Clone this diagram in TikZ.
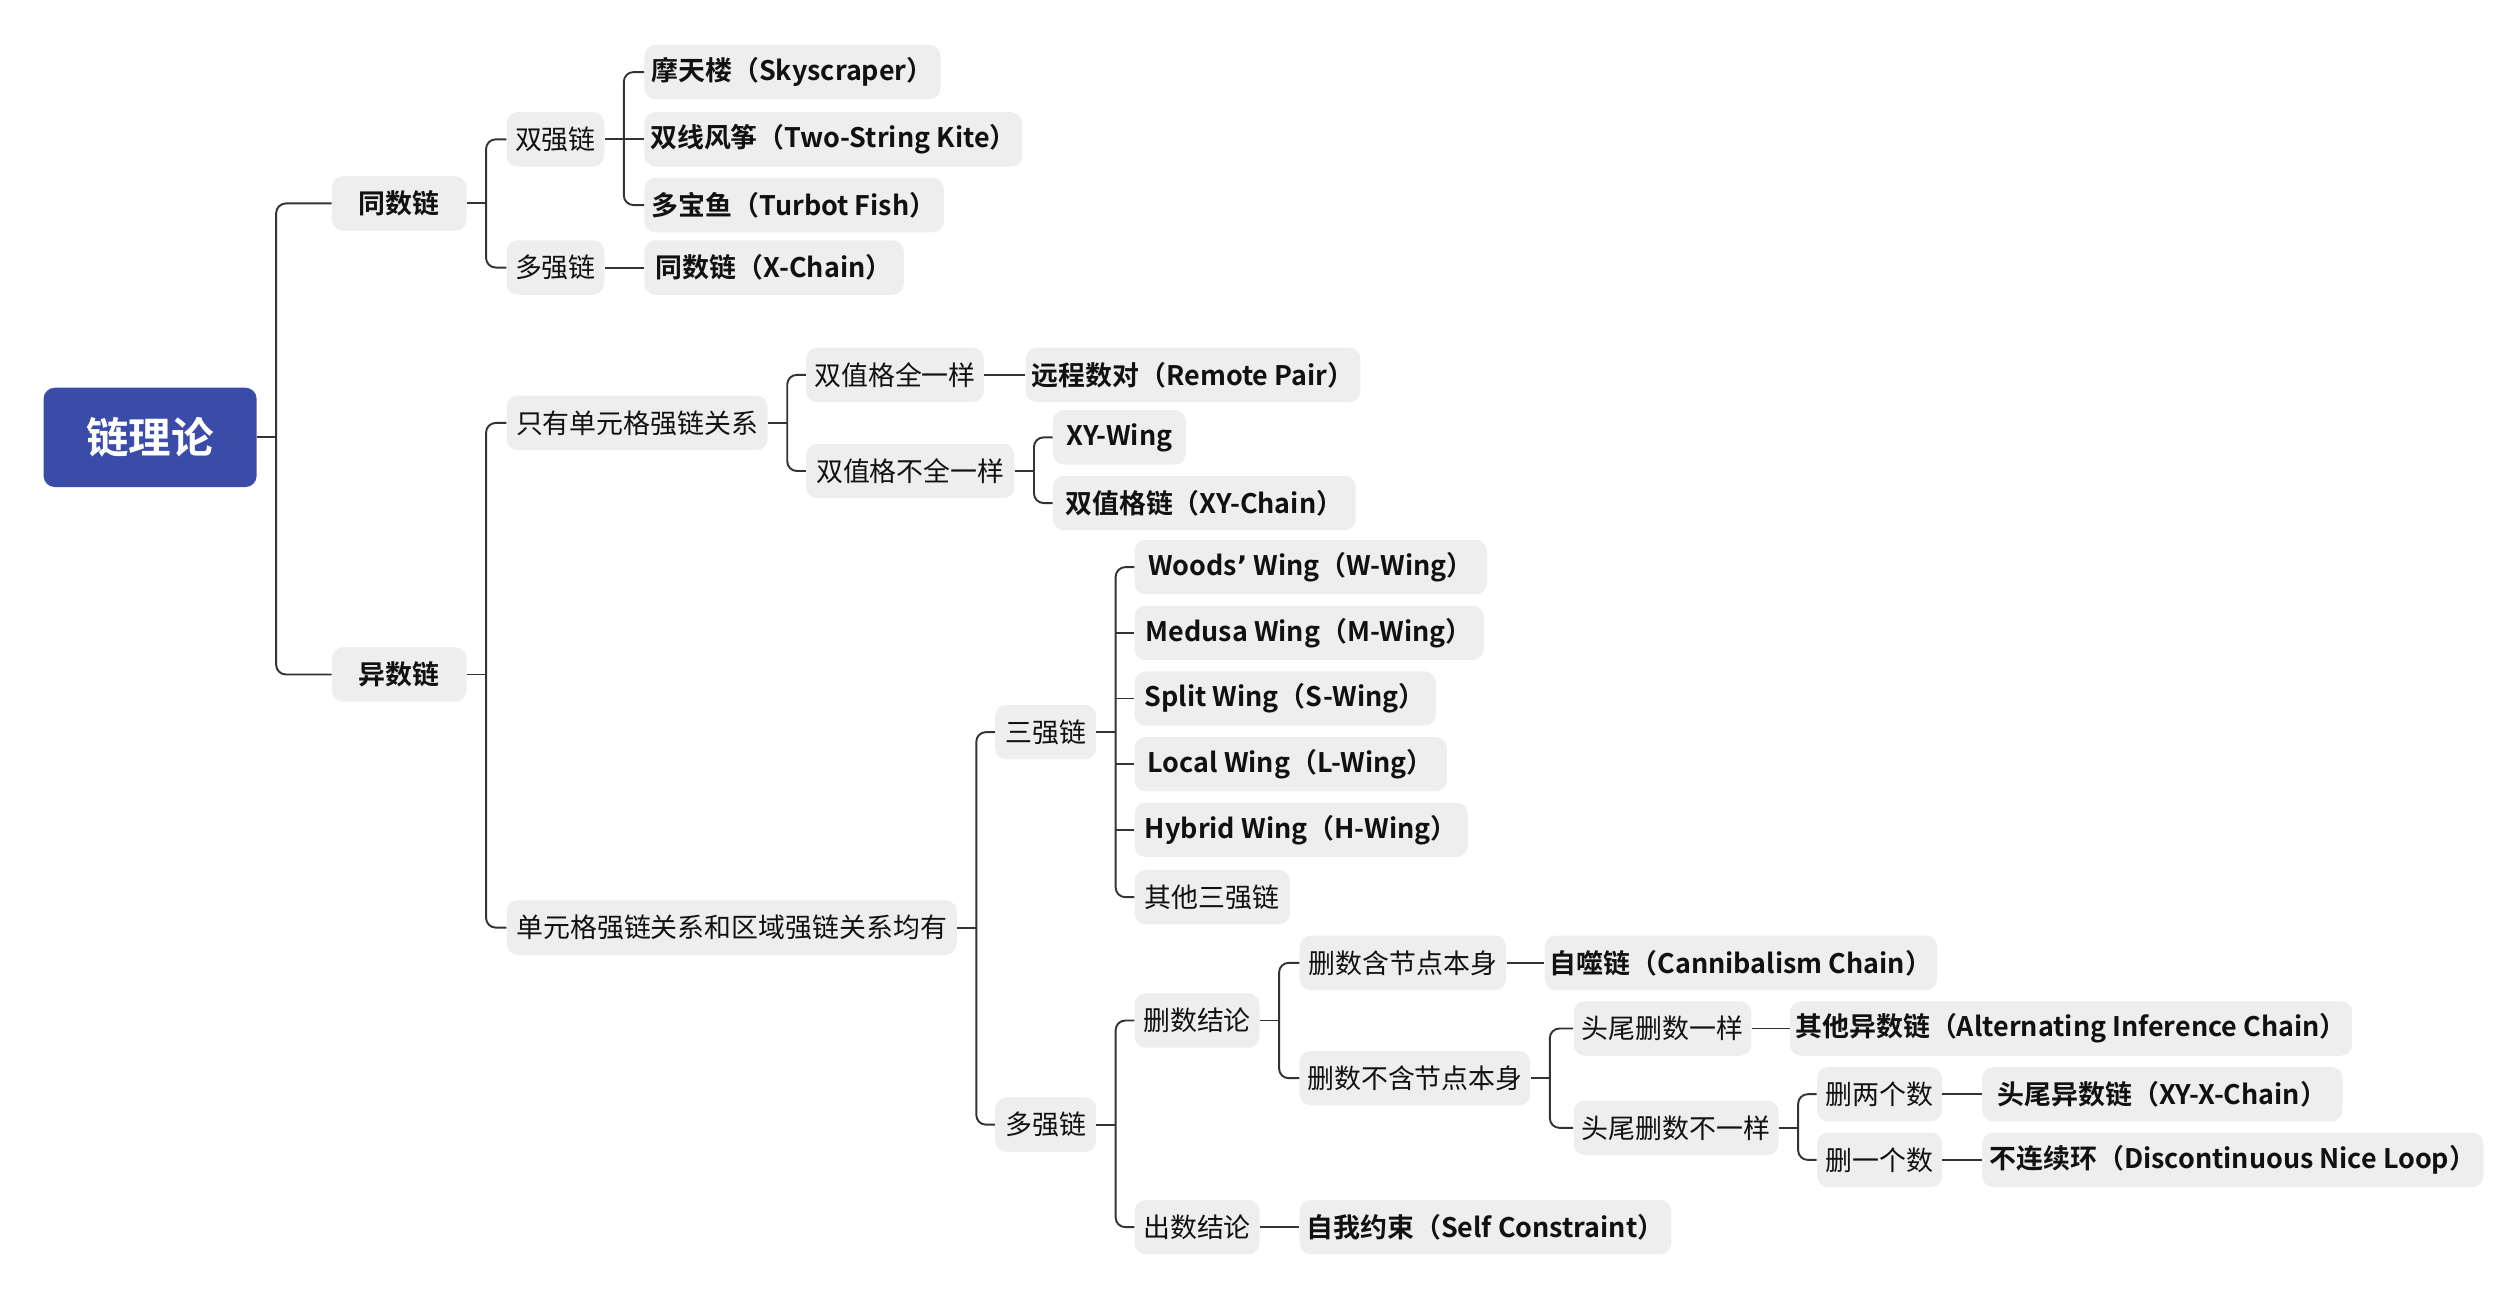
\documentclass[tikz,border=0pt]{standalone}
\usepackage{fontspec}
\setmainfont{Noto Sans CJK SC}[BoldFont={Noto Sans CJK SC Bold}]
\newfontfamily\apf{DejaVu Sans}
\newcommand\apos{{\apf ’}}
\usetikzlibrary{calc}
\definecolor{boxgray}{HTML}{EEEEEE}
\definecolor{rootblue}{HTML}{3A4BA8}
\definecolor{linec}{HTML}{333333}
\definecolor{txt}{HTML}{111111}
\begin{document}
\begin{tikzpicture}[x=1pt,y=-1pt,
  box/.style={fill=boxgray, rounded corners=7pt, minimum height=34pt, inner xsep=0pt, inner ysep=0pt, anchor=west, text=txt, font=\fontsize{16.8}{18}\selectfont},
  reg/.style={box},
  bld/.style={box, font=\fontsize{16.8}{18}\selectfont\bfseries},
  rootbox/.style={fill=rootblue, rounded corners=7pt, minimum height=62pt, minimum width=133pt, text=white, anchor=west, font=\fontsize{26.5}{28}\selectfont\bfseries},
  conn/.style={draw=linec, line width=1.2pt, rounded corners=6pt}
]
\useasboundingbox (0,0) rectangle (1568,805.2);
% nodes
\node[rootbox] (root) at (27,273) {链理论};
\node[bld, minimum width=84pt] (t1) at (207,127) {同数链};
\node[bld, minimum width=84pt] (t2) at (207,421) {异数链};
\node[reg, minimum width=61pt] (a1) at (316,87) {双强链};
\node[reg, minimum width=61pt] (a2) at (316,167) {多强链};
\node[bld, minimum width=185pt] (b1) at (402,45) {摩天楼（Skyscraper）};
\node[bld, minimum width=236pt] (b2) at (402,87) {双线风筝（Two-String Kite）};
\node[bld, minimum width=187pt] (b3) at (402,128) {多宝鱼（Turbot Fish）};
\node[bld, minimum width=162pt] (b4) at (402,167) {同数链（X-Chain）};
\node[reg, minimum width=163pt] (c1) at (316,264) {只有单元格强链关系};
\node[reg, minimum width=281pt] (c2) at (316,579) {单元格强链关系和区域强链关系均有};
\node[reg, minimum width=111pt] (d1) at (503,234) {双值格全一样};
\node[reg, minimum width=130pt] (d2) at (503,294) {双值格不全一样};
\node[bld, minimum width=209pt] (e1) at (640,234) {远程数对（Remote Pair）};
\node[bld, minimum width=83pt] (e2) at (657,273) {XY-Wing};
\node[bld, minimum width=189pt] (e3) at (657,314) {双值格链（XY-Chain）};
\node[reg, minimum width=63pt] (f1) at (621,457) {三强链};
\node[reg, minimum width=63pt] (f2) at (621,702) {多强链};
\node[bld, minimum width=220pt] (g1) at (708,354) {Woods\apos{} Wing（W-Wing）};
\node[bld, minimum width=218pt] (g2) at (708,395) {Medusa Wing（M-Wing）};
\node[bld, minimum width=188pt] (g3) at (708,436) {Split Wing（S-Wing）};
\node[bld, minimum width=195pt] (g4) at (708,477) {Local Wing（L-Wing）};
\node[bld, minimum width=208pt] (g5) at (708,518) {Hybrid Wing（H-Wing）};
\node[reg, minimum width=97pt] (g6) at (708,560) {其他三强链};
\node[reg, minimum width=78pt] (h1) at (708,637) {删数结论};
\node[reg, minimum width=78pt] (h2) at (708,766) {出数结论};
\node[reg, minimum width=129pt] (i1) at (811,601) {删数含节点本身};
\node[reg, minimum width=144pt] (i2) at (811,673) {删数不含节点本身};
\node[bld, minimum width=232pt] (i3) at (811,766) {自我约束（Self Constraint）};
\node[bld, minimum width=245pt] (j1) at (964,601) {自噬链（Cannibalism Chain）};
\node[reg, minimum width=111pt] (j2) at (982,642) {头尾删数一样};
\node[reg, minimum width=128pt] (j3) at (982,704) {头尾删数不一样};
\node[bld, minimum width=351pt] (k1) at (1117,642) {其他异数链（Alternating Inference Chain）};
\node[reg, minimum width=78pt] (k2) at (1134,683) {删两个数};
\node[reg, minimum width=78pt] (k3) at (1134,724) {删一个数};
\node[bld, minimum width=225pt] (l1) at (1237,683) {头尾异数链（XY-X-Chain）};
\node[bld, minimum width=313pt] (l2) at (1237,724) {不连续环（Discontinuous Nice Loop）};
% bus coordinates
\coordinate (broot) at ($(root.east)+(12,0)$);
\coordinate (bt1) at ($(t1.east)+(12,0)$);
\coordinate (ba1) at ($(a1.east)+(12,0)$);
\coordinate (bt2) at ($(t2.east)+(12,0)$);
\coordinate (bc1) at ($(c1.east)+(12,0)$);
\coordinate (bd2) at ($(d2.east)+(12,0)$);
\coordinate (bc2) at ($(c2.east)+(12,0)$);
\coordinate (bf1) at ($(f1.east)+(12,0)$);
\coordinate (bf2) at ($(f2.east)+(12,0)$);
\coordinate (bh1) at ($(h1.east)+(12,0)$);
\coordinate (bi2) at ($(i2.east)+(12,0)$);
\coordinate (bj3) at ($(j3.east)+(12,0)$);
% connectors
\draw[conn] (root.east) -- (broot);
\draw[conn] (t1.west) -| (broot) |- (t2.west);
\draw[conn] (t1.east) -- (bt1);
\draw[conn] (a1.west) -| (bt1) |- (a2.west);
\draw[conn] (a1.east) -- (ba1);
\draw[conn] (b1.west) -| (ba1) |- (b3.west);
\draw[conn] (b2.west) -- (ba1);
\draw[conn] (a2.east) -- (b4.west);
\draw[conn] (t2.east) -- (bt2);
\draw[conn] (c1.west) -| (bt2) |- (c2.west);
\draw[conn] (c1.east) -- (bc1);
\draw[conn] (d1.west) -| (bc1) |- (d2.west);
\draw[conn] (d1.east) -- (e1.west);
\draw[conn] (d2.east) -- (bd2);
\draw[conn] (e2.west) -| (bd2) |- (e3.west);
\draw[conn] (c2.east) -- (bc2);
\draw[conn] (f1.west) -| (bc2) |- (f2.west);
\draw[conn] (f1.east) -- (bf1);
\draw[conn] (g1.west) -| (bf1) |- (g6.west);
\draw[conn] (g2.west) -- (g2.west -| bf1);
\draw[conn] (g3.west) -- (g3.west -| bf1);
\draw[conn] (g4.west) -- (g4.west -| bf1);
\draw[conn] (g5.west) -- (g5.west -| bf1);
\draw[conn] (f2.east) -- (bf2);
\draw[conn] (h1.west) -| (bf2) |- (h2.west);
\draw[conn] (h1.east) -- (bh1);
\draw[conn] (i1.west) -| (bh1) |- (i2.west);
\draw[conn] (h2.east) -- (i3.west);
\draw[conn] (i1.east) -- (j1.west);
\draw[conn] (i2.east) -- (bi2);
\draw[conn] (j2.west) -| (bi2) |- (j3.west);
\draw[conn] (j2.east) -- (k1.west);
\draw[conn] (j3.east) -- (bj3);
\draw[conn] (k2.west) -| (bj3) |- (k3.west);
\draw[conn] (k2.east) -- (l1.west);
\draw[conn] (k3.east) -- (l2.west);
\end{tikzpicture}
\end{document}
